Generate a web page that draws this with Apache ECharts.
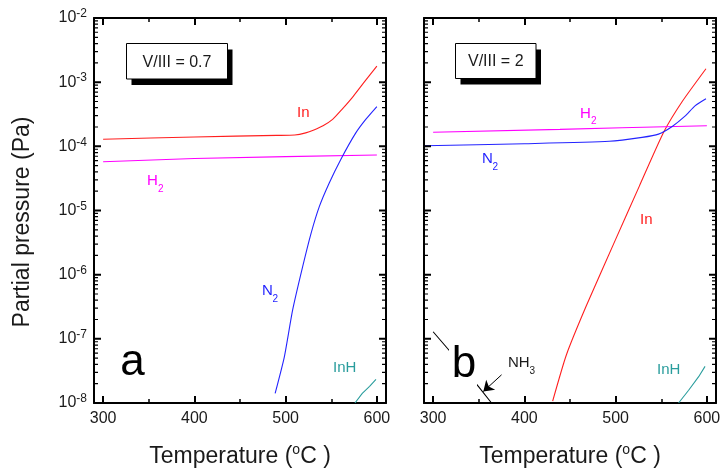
<!DOCTYPE html>
<html><head><meta charset="utf-8">
<script src="https://cdn.jsdelivr.net/npm/echarts@6/dist/echarts.min.js"></script>
<style>html,body{margin:0;padding:0;background:#fff}#c{width:724px;height:475px}</style>
</head><body><div id="c"></div>
<script>
// ---- axis ticks / labels ----
const xRange = [290, 610];
const xMajorTicks = [300, 400, 500, 600];
const xMinorTicks = [350, 450, 550];
const yRange = [1e-8, 1e-2];
const yDecadeExponents = [-8, -7, -6, -5, -4, -3, -2];
const yMinorMultipliers = [2, 3, 4, 5, 6, 7, 8, 9];

// ---- panel a (V/III = 0.7) ----
const inA_T = [300, 400, 490, 510, 522, 531, 541, 551.5, 562, 573, 585, 600];
const inA_P = [1.29e-4, 1.40e-4, 1.48e-4, 1.50e-4, 1.62e-4, 1.80e-4, 2.09e-4, 2.63e-4, 3.80e-4, 5.75e-4, 9.55e-4, 1.78e-3];
const h2A_T = [300, 400, 500, 600];
const h2A_P = [5.75e-5, 6.46e-5, 6.92e-5, 7.33e-5];
const n2A_T = [488.5, 498.6, 507.7, 518.6, 527.8, 536.9, 547.8, 560.6, 576.9, 587.8, 600];
const n2A_P = [1.41e-8, 5.25e-8, 2.82e-7, 1.32e-6, 4.37e-6, 1.15e-5, 2.69e-5, 6.31e-5, 1.62e-4, 2.63e-4, 4.17e-4];
const inhA_T = [576, 584, 592, 599];
const inhA_P = [1.0e-8, 1.41e-8, 1.82e-8, 2.34e-8];

// ---- panel b (V/III = 2) ----
const inB_T = [431, 446, 468, 500, 526, 553, 573, 599];
const inB_P = [1.07e-8, 5.6e-8, 3.3e-7, 3.55e-6, 2.4e-5, 1.7e-4, 5.0e-4, 1.62e-3];
const h2B_T = [300, 439, 507, 600];
const h2B_P = [1.66e-4, 1.84e-4, 1.95e-4, 2.09e-4];
const n2B_T = [291, 400, 493, 529, 547, 562, 576, 587, 599];
const n2B_P = [1.02e-4, 1.10e-4, 1.20e-4, 1.38e-4, 1.55e-4, 2.04e-4, 2.95e-4, 4.27e-4, 5.5e-4];
const inhB_T = [569, 580, 591, 598];
const inhB_P = [1.0e-8, 1.58e-8, 2.57e-8, 3.72e-8];
const nh3B_T = [300, 317, 350, 364];
const nh3B_P = [1.29e-7, 6.76e-8, 1.78e-8, 1.0e-8];
const nh3Arrow = [[375, 2.75e-8], [355, 1.51e-8]];

const FONT = 'Arial, "Liberation Sans", sans-serif';
const TXT = '#1a1a1a';
const C_RED = '#ff1f1f', C_MAG = '#ff00ff', C_BLUE = '#2424ff', C_TEAL = '#2a9d9d';

const pairs = (xs, ys) => xs.map((x, i) => [x, ys[i]]);

const gridsPos = [{left: 94, top: 18, width: 292, height: 385}, {left: 424, top: 18, width: 292, height: 385}];
const X_PER_GRID = 4, Y_PER_GRID = 2;
const MAJ = 7, MIN = 4;

// y tick values of the log axis
const yMajorVals = yDecadeExponents.map(e => Math.pow(10, e));
const yMinorVals = [];
yDecadeExponents.slice(0, -1).forEach(e => yMinorMultipliers.forEach(m => yMinorVals.push(m * Math.pow(10, e))));

const xAxes = [], yAxes = [];
gridsPos.forEach((g, gi) => {
  const frameLine = {show: true, onZero: false, lineStyle: {color: '#000', width: 2}};
  const baseX = {type: 'value', gridIndex: gi, min: xRange[0], max: xRange[1], splitLine: {show: false}};
  const titleRich = {
    a: {fontSize: 23, fontFamily: FONT, color: TXT, lineHeight: 28},
    s: {fontSize: 14, fontFamily: FONT, color: TXT, lineHeight: 14, verticalAlign: 'top'}
  };
  const tick = (vals, len, w) => ({show: true, inside: true, length: len, customValues: vals, lineStyle: {color: '#000', width: w}});
  xAxes.push(Object.assign({}, baseX, {
    position: 'bottom', axisLine: frameLine, axisTick: tick(xMajorTicks, MAJ, 2),
    axisLabel: {show: true, customValues: xMajorTicks, fontSize: 16, fontFamily: FONT, color: TXT, margin: 8},
    name: '{a|Temperature (}{s|o}{a|C )}', nameLocation: 'middle', nameGap: 40,
    nameTextStyle: {rich: titleRich}
  }));
  xAxes.push(Object.assign({}, baseX, {position: 'bottom', axisLine: {show: false}, axisTick: tick(xMinorTicks, MIN, 1.5), axisLabel: {show: false}}));
  xAxes.push(Object.assign({}, baseX, {position: 'top', axisLine: frameLine, axisTick: tick(xMajorTicks, MAJ, 2), axisLabel: {show: false}}));
  xAxes.push(Object.assign({}, baseX, {position: 'top', axisLine: {show: false}, axisTick: tick(xMinorTicks, MIN, 1.5), axisLabel: {show: false}}));

  const baseY = {type: 'log', logBase: 10, gridIndex: gi, min: yRange[0], max: yRange[1], splitNumber: 6,
    splitLine: {show: false}, axisTick: {show: false}};
  yAxes.push(Object.assign({}, baseY, {
    position: 'left', axisLine: frameLine,
    axisLabel: {
      show: gi === 0, margin: 7,
      formatter: v => '{a|10}{s|-' + Math.abs(Math.round(Math.log10(v))) + '}',
      rich: {
        a: {fontSize: 16, fontFamily: FONT, color: TXT, lineHeight: 20},
        s: {fontSize: 12, fontFamily: FONT, color: TXT, lineHeight: 12, verticalAlign: 'top'}
      }
    }
  }));
  yAxes.push(Object.assign({}, baseY, {position: 'right', axisLine: frameLine, axisLabel: {show: false}}));
});

function line(name, gi, xs, ys, color, smooth, extra) {
  return Object.assign({
    name, type: 'line', xAxisIndex: gi * X_PER_GRID, yAxisIndex: gi * Y_PER_GRID,
    data: pairs(xs, ys), showSymbol: false, symbol: 'none', clip: true, smooth: smooth,
    lineStyle: {color, width: 1.1}, itemStyle: {color}, animation: false, z: 3
  }, extra || {});
}

// inward y ticks (both frame sides) drawn as short line segments through the log axis
function yTickSeries(gi, vals, lenPx, width) {
  const dx = lenPx * (xRange[1] - xRange[0]) / gridsPos[gi].width;
  const data = [];
  vals.forEach(v => {
    data.push([xRange[0], v], [xRange[0] + dx, v], [xRange[0] + dx, null]);
    data.push([xRange[1] - dx, v], [xRange[1], v], [xRange[1], null]);
  });
  return {
    type: 'line', xAxisIndex: gi * X_PER_GRID, yAxisIndex: gi * Y_PER_GRID, data,
    showSymbol: false, symbol: 'none', connectNulls: false, clip: false, silent: true, animation: false, z: 5,
    lineStyle: {color: '#000', width}, itemStyle: {color: '#000'}
  };
}

const series = [
  line('In a', 0, inA_T, inA_P, C_RED, 0.2),
  line('H2 a', 0, h2A_T, h2A_P, C_MAG, false),
  line('N2 a', 0, n2A_T, n2A_P, C_BLUE, 0.2),
  line('InH a', 0, inhA_T, inhA_P, C_TEAL, false),
  line('In b', 1, inB_T, inB_P, C_RED, 0.2),
  line('H2 b', 1, h2B_T, h2B_P, C_MAG, false),
  line('N2 b', 1, n2B_T, n2B_P, C_BLUE, 0.2),
  line('InH b', 1, inhB_T, inhB_P, C_TEAL, false),
  line('NH3 b', 1, nh3B_T, nh3B_P, '#000', false, {
    markLine: {
      silent: true, animation: false, symbol: ['none', 'arrow'], symbolSize: 10,
      label: {show: false}, lineStyle: {color: '#000', width: 1, type: 'solid'},
      data: [[{coord: nh3Arrow[0]}, {coord: nh3Arrow[1]}]]
    }
  }),
  yTickSeries(0, yMajorVals, MAJ, 2),
  yTickSeries(0, yMinorVals, MIN, 1.2),
  yTickSeries(1, yMajorVals, MAJ, 2),
  yTickSeries(1, yMinorVals, MIN, 1.2)
];

function txt(x, y, text, size, color, align) {
  return {type: 'text', x, y, z: 100, style: {text, fontSize: size, fontFamily: FONT, fill: color, align: align || 'left', verticalAlign: 'middle'}};
}
function box(x, y, w, h, label) {
  return [
    {type: 'rect', z: 90, shape: {x: x + 5, y: y + 6, width: w, height: h}, style: {fill: '#000'}},
    {type: 'rect', z: 91, shape: {x, y, width: w, height: h}, style: {fill: '#fff', stroke: '#000', lineWidth: 1}},
    txt(x + w / 2, y + h / 2 + 1, label, 16, TXT, 'center')
  ];
}

const graphic = [].concat(
  box(126.5, 43.5, 101, 35.5, 'V/III = 0.7'),
  box(455.5, 43.5, 80.5, 35, 'V/III = 2'),
  [
    {type: 'text', x: 23, y: 222, rotation: Math.PI / 2, z: 100,
     style: {text: 'Partial pressure (Pa)', fontSize: 23, fontFamily: FONT, fill: TXT, align: 'center', verticalAlign: 'middle'}},
    txt(297, 113, 'In', 15, C_RED),
    txt(147, 181, 'H', 15, C_MAG), txt(158, 189, '2', 10, C_MAG),
    txt(262, 291, 'N', 15, C_BLUE), txt(272.5, 299, '2', 10, C_BLUE),
    txt(333, 368, 'InH', 15, C_TEAL),
    txt(132.5, 363, 'a', 44, '#000', 'center'),
    txt(640, 220, 'In', 15, C_RED),
    txt(580, 114, 'H', 15, C_MAG), txt(591, 121, '2', 10, C_MAG),
    txt(482, 159, 'N', 15, C_BLUE), txt(492.5, 167, '2', 10, C_BLUE),
    txt(657, 370, 'InH', 15, C_TEAL),
    txt(508, 363, 'NH', 15, TXT), txt(529.5, 371, '3', 10, TXT),
    {type: 'rect', z: 95, shape: {x: 449, y: 337, width: 28, height: 49}, style: {fill: '#fff'}},
    txt(464, 364.5, 'b', 44, '#000', 'center')
  ]
);

const chart = echarts.init(document.getElementById('c'), null, {renderer: 'canvas'});
chart.setOption({
  animation: false,
  backgroundColor: '#fff',
  grid: gridsPos.map(g => Object.assign({containLabel: false}, g)),
  xAxis: xAxes,
  yAxis: yAxes,
  series,
  graphic
});
</script></body></html>
